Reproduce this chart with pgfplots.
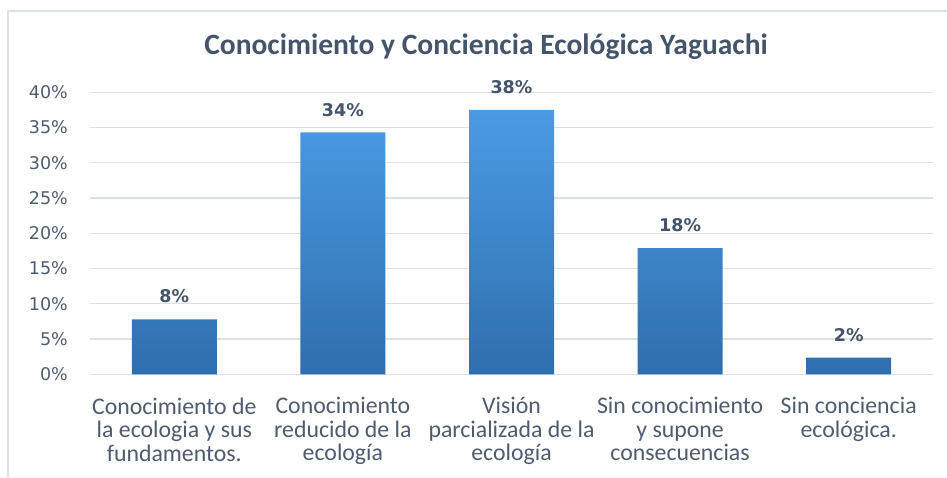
\documentclass[border=0pt]{standalone}
\usepackage{pgfplots}
\pgfplotsset{compat=1.18}
\usepackage{fontspec}
\setmainfont{Carlito}
\newfontfamily\numfont{DejaVu Sans}
\definecolor{txt}{HTML}{4F5B6E}
\definecolor{ttl}{HTML}{44546A}
\definecolor{gridc}{HTML}{DCE1E8}
\definecolor{bartop}{HTML}{4A9BE5}
\definecolor{barbot}{HTML}{2F6EAD}
\begin{document}
\begin{tikzpicture}
\useasboundingbox (0,0) rectangle (947pt,477pt);
\fill[white] (0,0) rectangle (947pt,477pt);
\draw[gridc, line width=2pt] (8pt,0) -- (8pt,466pt) -- (947pt,466pt);
\node[font=\fontsize{29.5}{33}\selectfont\bfseries, text=ttl] at (486pt,430pt) {Conocimiento y Conciencia Ecológica Yaguachi};
\begin{axis}[
  at={(90pt,102.7pt)}, anchor=south west,
  scale only axis, width=843pt, height=282pt,
  xmin=-0.5, xmax=4.5, ymin=0, ymax=40,
  ytick={0,5,...,40},
  /pgf/number format/assume math mode=true,
  yticklabel={\pgfmathprintnumber{\tick}\%},
  yticklabel style={font=\numfont\fontsize{17.5}{20}\selectfont, text=txt, anchor=east, inner sep=0pt, xshift=-22pt},
  xtick={0,1,2,3,4},
  xticklabels={{Conocimiento de\\la ecologia y sus\\fundamentos.},
               {Conocimiento\\reducido de la\\ecología},
               {Visión\\parcializada de la\\ecología},
               {Sin conocimiento\\y supone\\consecuencias},
               {Sin conciencia\\ecológica.}},
  xticklabel style={font=\fontsize{23.8}{23.5}\selectfont, text=txt, align=center, anchor=north, inner sep=0pt, yshift=-23pt},
  major tick length=0pt,
  axis line style={draw=none},
  ymajorgrids, grid style={gridc, line width=1.3pt},
  ybar, bar width=85pt,
  point meta=explicit symbolic,
  nodes near coords,
  nodes near coords style={font=\numfont\bfseries\fontsize{17.5}{20}\selectfont, text=ttl, anchor=south, inner sep=0pt, yshift=16pt},
  clip=false,
]
\addplot[draw=none, top color=bartop, bottom color=barbot] coordinates {
  (0,7.8) [8\%]
  (1,34.3) [34\%]
  (2,37.5) [38\%]
  (3,17.9) [18\%]
  (4,2.35) [2\%]
};
\end{axis}
\end{tikzpicture}
\end{document}
